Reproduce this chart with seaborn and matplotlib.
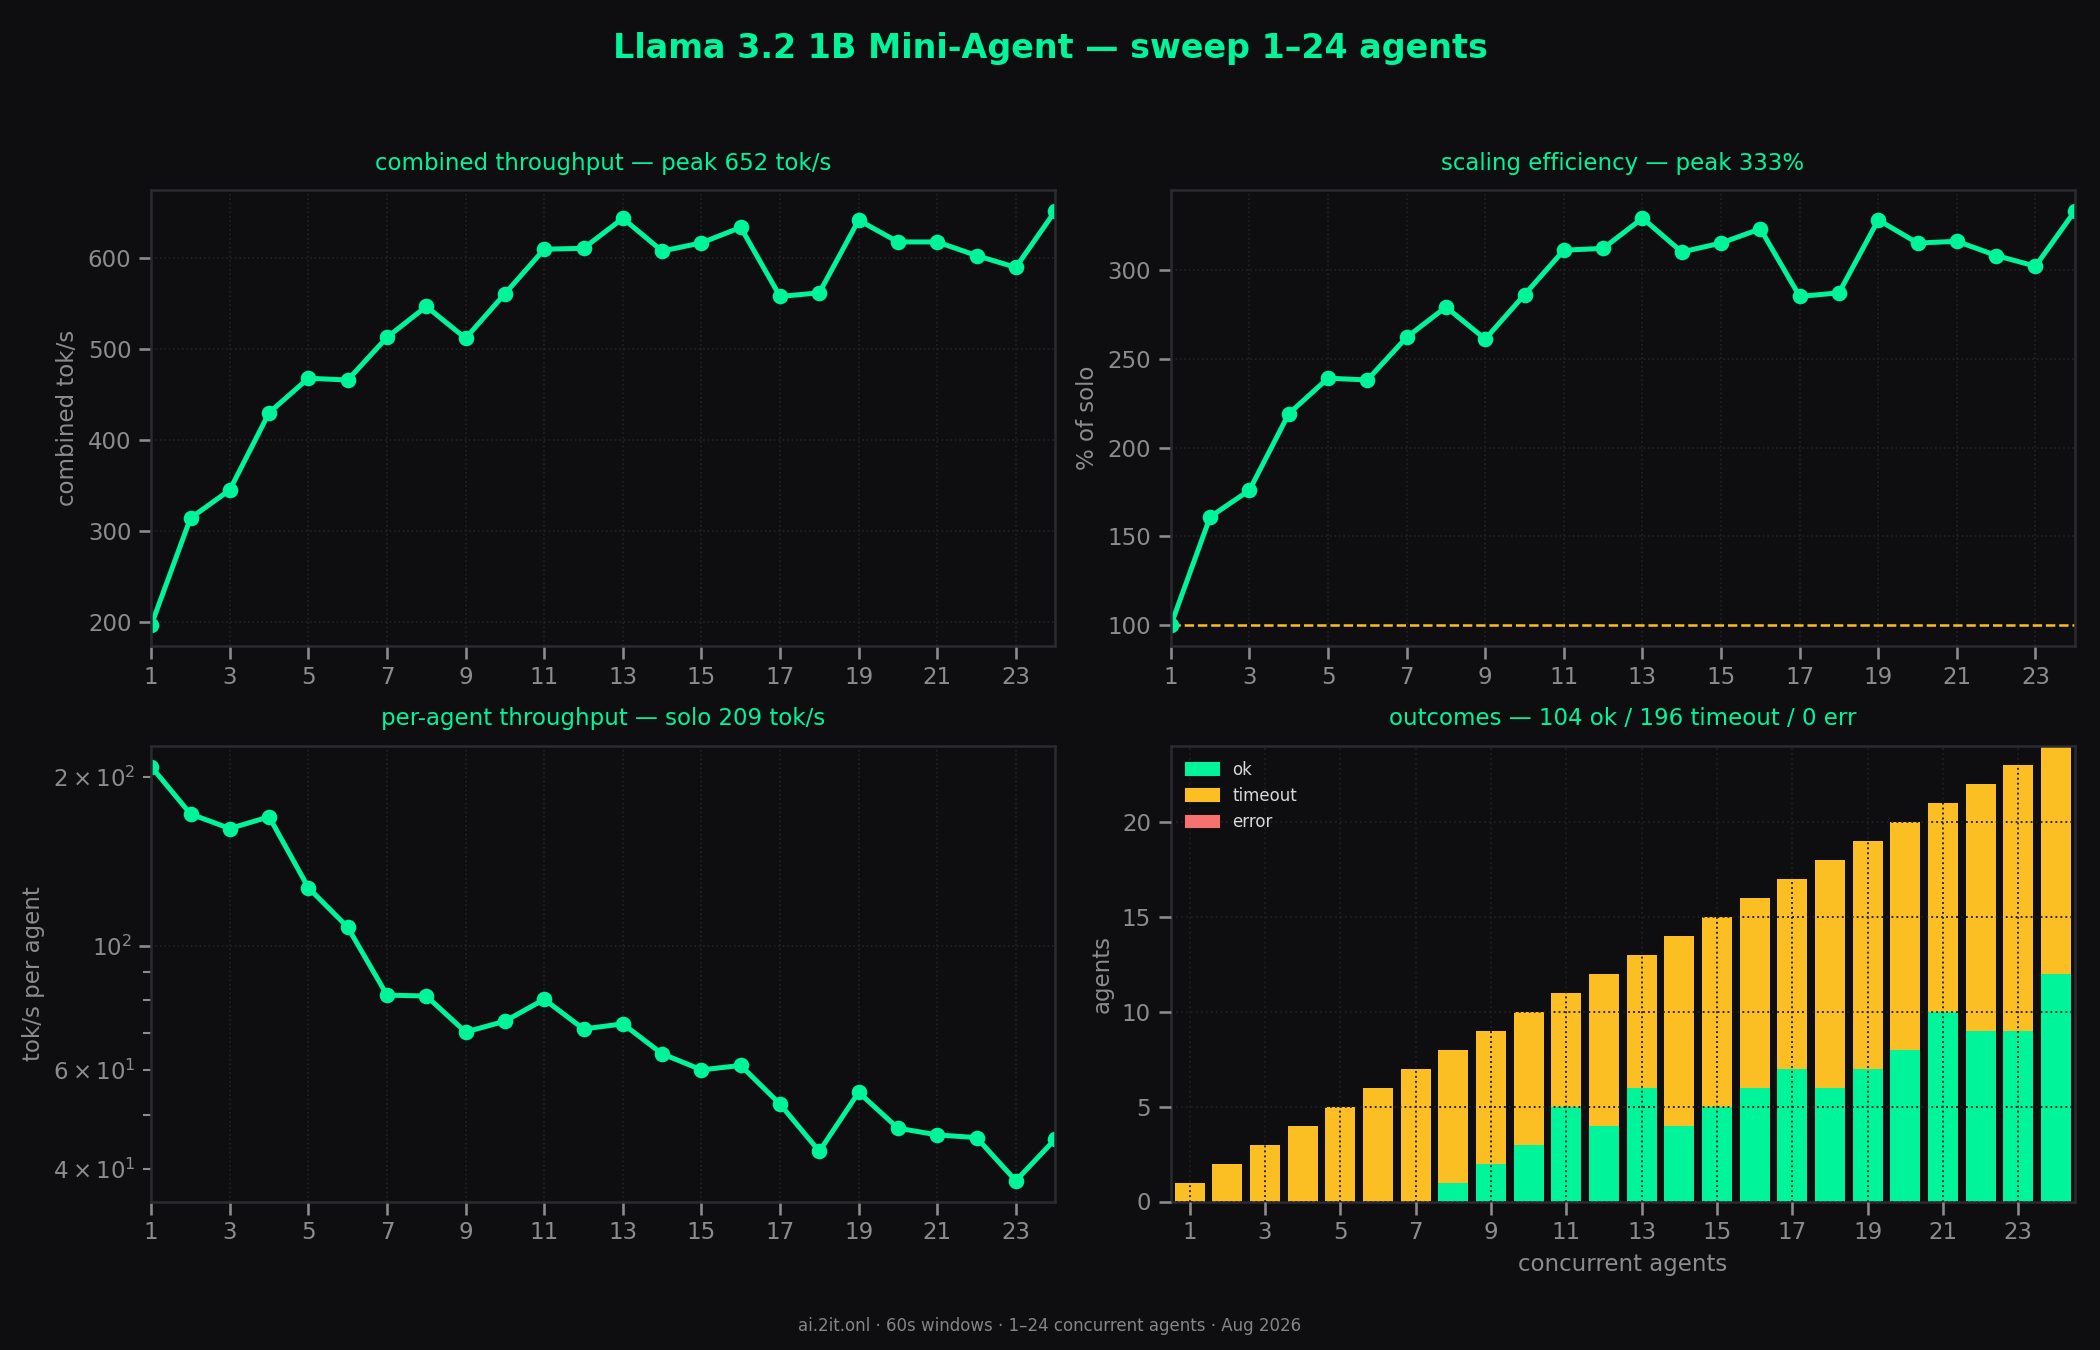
import matplotlib
matplotlib.use("Agg")
import matplotlib.pyplot as plt
from matplotlib.patches import Patch
import numpy as np
import pandas as pd
import seaborn as sns

# ---- data ----
agents = list(range(1, 25))
combined_tps = [196, 314, 345, 430, 468, 466, 513, 547, 512, 561, 610, 611,
                644, 608, 617, 634, 558, 562, 642, 618, 618, 603, 590, 652]
efficiency_pct = [100, 161, 176, 219, 239, 238, 262, 279, 261, 286, 311, 312,
                  329, 310, 315, 323, 285, 287, 328, 315, 316, 308, 302, 333]
per_agent_tps = [209, 172, 162, 170, 127, 108, 81.7, 81.4, 70.2, 73.4, 80.3, 71.1,
                 72.6, 64.2, 60.1, 61.2, 52.2, 43.0, 54.8, 47.3, 46.0, 45.5, 38.1, 45.2]
ok_counts = [0, 0, 0, 0, 0, 0, 0, 1, 2, 3, 5, 4, 6, 4, 5, 6, 7, 6, 7, 8, 10, 9, 9, 12]
timeout_counts = [1, 2, 3, 4, 5, 6, 7, 7, 7, 7, 6, 8, 7, 10, 10, 10, 10, 12, 12, 12,
                  11, 13, 14, 12]
error_counts = [0] * 24
x_ticks = list(range(1, 24, 2))

# ---- style ----
BG = "#0e0e10"
GREEN = "#00f59b"
AMBER = "#fbbf24"
RED = "#f87171"
SPINE = "#2a2a30"
GRID = "#232327"
MUTED = "#8c8c8c"

sns.set_theme(style="dark", rc={
    "figure.facecolor": BG,
    "axes.facecolor": BG,
    "axes.edgecolor": SPINE,
    "axes.linewidth": 1.2,
    "axes.labelcolor": MUTED,
    "xtick.color": MUTED,
    "ytick.color": MUTED,
    "xtick.bottom": True,
    "ytick.left": True,
    "xtick.labelsize": 11,
    "ytick.labelsize": 11,
    "axes.labelsize": 11,
    "axes.grid": True,
    "grid.color": GRID,
    "grid.linestyle": ":",
    "grid.linewidth": 0.8,
    "text.color": MUTED,
})
plt.rcParams["font.family"] = ["DejaVu Sans"]

fig, axes = plt.subplots(2, 2, figsize=(14, 9), dpi=150)
fig.subplots_adjust(left=0.072, right=0.988, top=0.859, bottom=0.110,
                    wspace=0.128, hspace=0.219)

line_kw = dict(color=GREEN, linewidth=2.4, marker="o", markersize=7.5,
               markeredgecolor=GREEN, markeredgewidth=0)


def _line_axis(ax, y, ylabel, title):
    sns.lineplot(x=agents, y=y, ax=ax, **line_kw)
    ax.set_xlim(1, 24)
    ax.set_xticks(x_ticks)
    ax.set_ylabel(ylabel)
    ax.set_xlabel("")
    ax.set_title(title, color=GREEN, fontsize=11, pad=10)


ax = axes[0, 0]
_line_axis(ax, combined_tps, "combined tok/s",
           f"combined throughput — peak {max(combined_tps)} tok/s")

ax = axes[0, 1]
_line_axis(ax, efficiency_pct, "% of solo",
           f"scaling efficiency — peak {max(efficiency_pct)}%")
ax.axhline(100, color=AMBER, linewidth=1.2, linestyle="--", zorder=1)

ax = axes[1, 0]
_line_axis(ax, per_agent_tps, "tok/s per agent",
           f"per-agent throughput — solo {per_agent_tps[0]:.0f} tok/s")
ax.set_yscale("log")

# ---- outcomes: stacked bars (ok bottom, timeout, error on top) ----
ax = axes[1, 1]
df = pd.DataFrame({"agents": agents, "ok": ok_counts,
                   "timeout": timeout_counts, "error": error_counts})
df["ok_to"] = df["ok"] + df["timeout"]
df["all"] = df["ok_to"] + df["error"]
bar_kw = dict(x="agents", ax=ax, width=0.8, saturation=1, errorbar=None, linewidth=0)
sns.barplot(data=df, y="all", color=RED, **bar_kw)
sns.barplot(data=df, y="ok_to", color=AMBER, **bar_kw)
sns.barplot(data=df, y="ok", color=GREEN, **bar_kw)
ax.set_axisbelow(False)
ax.grid(True, color="#1f1f22", linestyle=":", linewidth=0.9)
ax.set_ylim(0, df["all"].max())
ax.set_xticks([a - 1 for a in x_ticks], labels=[str(a) for a in x_ticks])
ax.set_xlabel("concurrent agents")
ax.set_ylabel("agents")
ax.set_title(f"outcomes — {sum(ok_counts)} ok / {sum(timeout_counts)} timeout / "
             f"{sum(error_counts)} err", color=GREEN, fontsize=11, pad=10)
handles = [Patch(color=GREEN, label="ok"), Patch(color=AMBER, label="timeout"),
           Patch(color=RED, label="error")]
ax.legend(handles=handles, loc="upper left", frameon=False, fontsize=8,
          labelcolor="#d8d8d8", handlelength=2.0)

for a in axes.flat:
    for s in a.spines.values():
        s.set_visible(True)
        s.set_color(SPINE)

fig.suptitle("Llama 3.2 1B Mini-Agent — sweep 1–24 agents", color=GREEN,
             fontsize=16, fontweight="bold", y=0.976)
fig.text(0.5, 0.018, "ai.2it.onl · 60s windows · 1–24 concurrent agents · Aug 2026",
         ha="center", va="center", fontsize=8, color="#858585")

fig.savefig("out.png", dpi=150, facecolor=BG)
